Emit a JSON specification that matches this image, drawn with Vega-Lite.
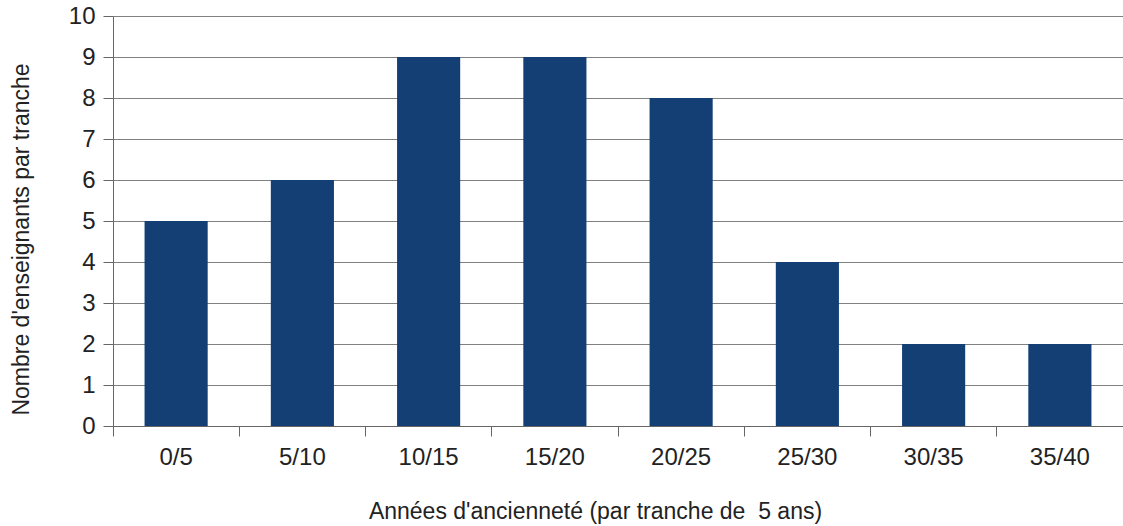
{
  "$schema": "https://vega.github.io/schema/vega-lite/v6.json",
  "width": 1010,
  "height": 410,
  "autosize": {"type": "none"},
  "padding": {"left": 113, "top": 16, "right": 0, "bottom": 100},
  "background": "white",
  "config": {
    "view": {"stroke": null},
    "font": "Liberation Sans"
  },
  "data": {
    "values": [
      {"tranche": "0/5", "n": 5},
      {"tranche": "5/10", "n": 6},
      {"tranche": "10/15", "n": 9},
      {"tranche": "15/20", "n": 9},
      {"tranche": "20/25", "n": 8},
      {"tranche": "25/30", "n": 4},
      {"tranche": "30/35", "n": 2},
      {"tranche": "35/40", "n": 2}
    ]
  },
  "mark": {"type": "bar", "color": "#133F74"},
  "encoding": {
    "x": {
      "field": "tranche",
      "type": "nominal",
      "sort": null,
      "scale": {"paddingInner": 0.5, "paddingOuter": 0.25},
      "axis": {
        "title": "Années d'ancienneté (par tranche de \u00a05 ans)",
        "titleFontSize": 23,
        "titleFontWeight": "normal",
        "titleColor": "#222222",
        "titleX": 482,
        "titleY": 92,
        "titleBaseline": "alphabetic",
        "titleAlign": "center",
        "labelAngle": 0,
        "labelFontSize": 24,
        "labelColor": "#222222",
        "labelPadding": 9,
        "tickSize": 10,
        "tickColor": "#666666",
        "domainColor": "#666666",
        "bandPosition": -0.5,
        "grid": false
      }
    },
    "y": {
      "field": "n",
      "type": "quantitative",
      "scale": {"domain": [0, 10]},
      "axis": {
        "title": "Nombre d'enseignants par tranche",
        "titleFontSize": 23,
        "titleFontWeight": "normal",
        "titleColor": "#222222",
        "titleX": -85,
        "titleY": 223,
        "titleAngle": -90,
        "titleBaseline": "alphabetic",
        "titleAlign": "center",
        "values": [0,1,2,3,4,5,6,7,8,9,10],
        "labelFontSize": 24,
        "labelColor": "#222222",
        "labelPadding": 8,
        "tickSize": 10,
        "tickColor": "#666666",
        "domainColor": "#666666",
        "grid": true,
        "gridColor": "#808080",
        "gridWidth": 1.2
      }
    }
  }
}
